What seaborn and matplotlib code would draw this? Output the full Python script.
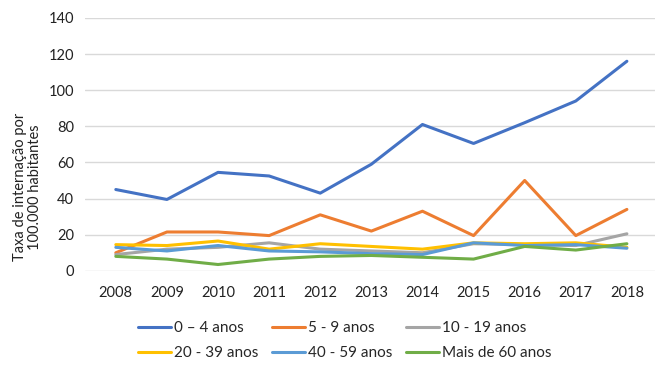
import matplotlib
matplotlib.use("Agg")
import matplotlib.pyplot as plt
import seaborn as sns
import pandas as pd

anos = [2008, 2009, 2010, 2011, 2012, 2013, 2014, 2015, 2016, 2017, 2018]
faixa_0_4 = [45, 39.5, 54.5, 52.5, 43, 59, 81, 70.5, 82, 94, 116]
faixa_5_9 = [10, 21.5, 21.5, 19.5, 31, 22, 33, 19.5, 50, 19.5, 34]
faixa_10_19 = [9, 12, 13, 15.5, 12, 11, 10, 15, 14.5, 14, 20.5]
faixa_20_39 = [14.5, 14, 16.5, 12, 15, 13.5, 12, 15.5, 15, 15.5, 13]
faixa_40_59 = [13, 11, 14, 11, 10.5, 9.5, 9, 15.5, 14, 14.5, 12.5]
faixa_60_mais = [8, 6.5, 3.5, 6.5, 8, 8.5, 7.5, 6.5, 13.5, 11.5, 15]

rotulos = ["0 – 4 anos", "5 - 9 anos", "10 - 19 anos",
           "20 - 39 anos", "40 - 59 anos", "Mais de 60 anos"]
series = [faixa_0_4, faixa_5_9, faixa_10_19, faixa_20_39, faixa_40_59, faixa_60_mais]
cores = ["#4472C4", "#ED7D31", "#A5A5A5", "#FFC000", "#5B9BD5", "#70AD47"]

linhas = []
for rot, vals in zip(rotulos, series):
    for i, (a, v) in enumerate(zip(anos, vals)):
        linhas.append({"pos": i, "ano": str(a), "faixa": rot, "taxa": v})
df = pd.DataFrame(linhas)

sns.set_theme(style="white")
plt.rcParams["font.family"] = ["Lato", "DejaVu Sans"]

fig = plt.figure(figsize=(6.55, 3.65), dpi=100)
ax = fig.add_axes([0.13, 0.258, 0.87, 0.693])

sns.lineplot(data=df, x="pos", y="taxa", hue="faixa", hue_order=rotulos,
             palette=cores, linewidth=2.2, ax=ax, legend=True)

ax.set_xlim(-0.6, len(anos) - 0.45)
ax.set_ylim(0, 140)
ax.set_yticks(range(0, 141, 20))
ax.set_xticks(range(len(anos)))
ax.set_xticklabels([str(a) for a in anos])
ax.tick_params(axis="both", labelsize=10.5, colors="#222222", length=0, pad=8)
ax.tick_params(axis="x", pad=11)
ax.grid(axis="y", color="#D9D9D9", linewidth=1)
ax.set_axisbelow(True)
for s in ax.spines.values():
    s.set_visible(False)

ax.set_xlabel("")
ax.set_ylabel("Taxa de internação por\n100.000 habitantes", fontsize=10.5,
              color="#222222", linespacing=1.1)
ax.yaxis.set_label_coords(-0.075, 0.33)

# legend filled row by row: 3 columns x 2 rows
handles, labels = ax.get_legend_handles_labels()
ordem = [0, 3, 1, 4, 2, 5]
ax.legend([handles[i] for i in ordem], [labels[i] for i in ordem],
          loc="upper center", bbox_to_anchor=(0.455, -0.145),
          ncol=3, frameon=False, fontsize=11, handlelength=2.2,
          handletextpad=0.15, columnspacing=0.9, labelspacing=0.7)

fig.savefig("out.png", dpi=100, facecolor="white")
